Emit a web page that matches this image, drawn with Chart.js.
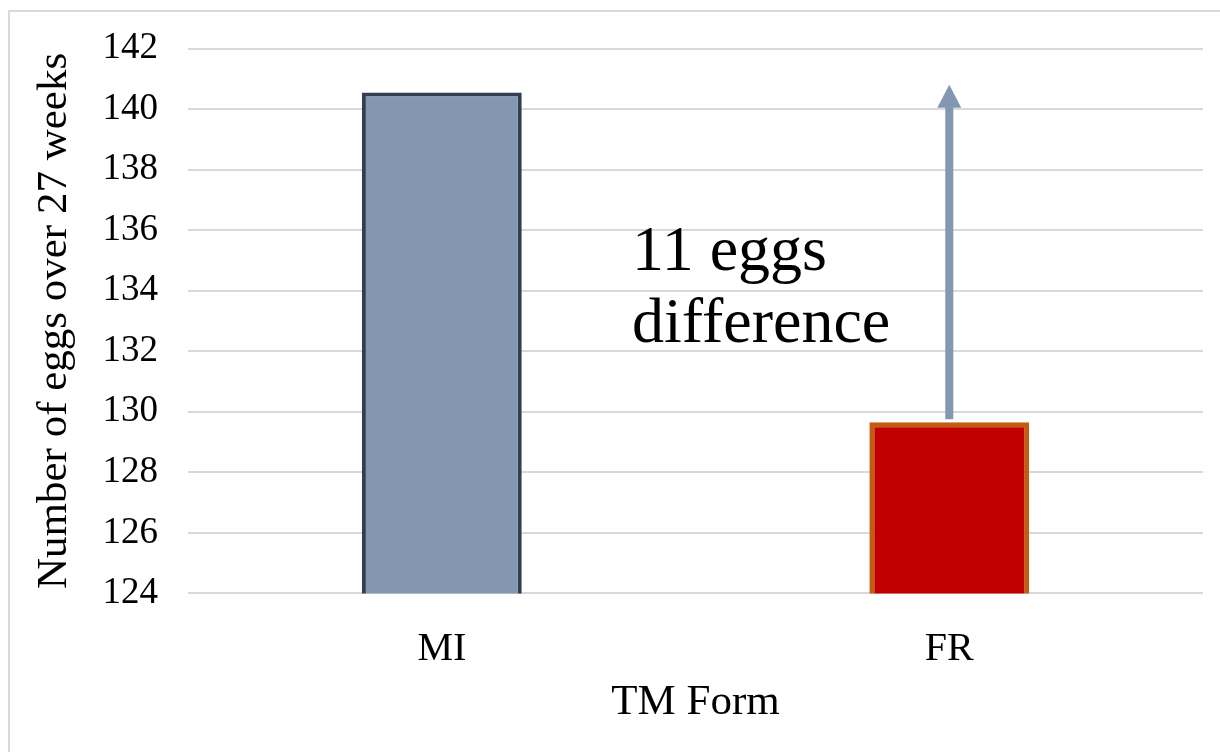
<!DOCTYPE html>
<html>
<head>
<meta charset="utf-8">
<script src="https://cdn.jsdelivr.net/npm/chart.js@4"></script>
<style>
  html, body { margin: 0; padding: 0; background: #fff; }
  #wrap { width: 1220px; height: 752px; }
</style>
</head>
<body>
<div id="wrap"><canvas id="eggChart" width="1220" height="752"></canvas></div>
<script>
const categories = ['MI', 'FR'];
const eggCounts = [140.55, 129.65];
const barColors = ['#8497B0', '#C00000'];
const barBorders = ['#333F50', '#C55A11'];
const yTicks = { min: 124, max: 142, step: 2 };
// arrow drawn above the FR bar, from its top up to the MI level
const arrowFrom = 129.65;
const arrowTo = 140.8;
const noteLines = ['11 eggs', 'difference'];

const serif = '"Liberation Serif", "Times New Roman", serif';

const frameBorder = {
  id: 'frameBorder',
  beforeDraw(chart) {
    const ctx = chart.ctx;
    ctx.save();
    ctx.strokeStyle = '#d9d9d9';
    ctx.lineWidth = 2;
    ctx.strokeRect(9, 11, 1230, 760);
    ctx.restore();
  },
};

const arrowNote = {
  id: 'arrowNote',
  afterDatasetsDraw(chart) {
    const ctx = chart.ctx;
    const x = chart.scales.x.getPixelForValue(1);
    const y0 = chart.scales.y.getPixelForValue(arrowFrom);
    const y1 = chart.scales.y.getPixelForValue(arrowTo);
    ctx.save();
    ctx.fillStyle = '#8497B0';
    ctx.strokeStyle = '#8497B0';
    ctx.lineWidth = 8;
    ctx.beginPath();
    ctx.moveTo(x, y0 - 3);
    ctx.lineTo(x, y1 + 20);
    ctx.stroke();
    ctx.beginPath();
    ctx.moveTo(x, y1);
    ctx.lineTo(x - 12, y1 + 23);
    ctx.lineTo(x + 12, y1 + 23);
    ctx.closePath();
    ctx.fill();

    ctx.fillStyle = '#000';
    ctx.font = '64px ' + serif;
    ctx.textAlign = 'left';
    ctx.textBaseline = 'alphabetic';
    ctx.fillText(noteLines[0], 632, 270);
    ctx.fillText(noteLines[1], 632, 342);
    ctx.restore();
  },
};

new Chart(document.getElementById('eggChart'), {
  type: 'bar',
  data: {
    labels: categories,
    datasets: [{
      data: eggCounts,
      backgroundColor: barColors,
      borderColor: barBorders,
      borderWidth: [4, 5],
      borderSkipped: false,
      barPercentage: 0.63,
      categoryPercentage: 0.5,
    }],
  },
  options: {
    responsive: false,
    animation: false,
    layout: { padding: { top: 8, right: 17, left: 25, bottom: 19 } },
    plugins: {
      legend: { display: false },
      tooltip: { enabled: false },
    },
    scales: {
      x: {
        grid: { display: false },
        border: { display: false },
        ticks: { color: '#000', font: { family: serif, size: 40 }, padding: 24 },
        title: {
          display: true,
          text: 'TM Form',
          color: '#000',
          font: { family: serif, size: 43 },
          padding: { top: -20, bottom: 4 },
        },
      },
      y: {
        min: yTicks.min,
        max: yTicks.max,
        grid: { color: '#d9d9d9', lineWidth: 2, drawTicks: false },
        border: { display: false },
        ticks: {
          stepSize: yTicks.step,
          color: '#000',
          font: { family: serif, size: 37, lineHeight: 1.0 },
          padding: 30,
        },
        title: {
          display: true,
          text: 'Number of eggs over 27 weeks',
          color: '#000',
          font: { family: serif, size: 43 },
          padding: { top: 4, bottom: -8 },
        },
      },
    },
  },
  plugins: [frameBorder, arrowNote],
});
</script>
</body>
</html>
